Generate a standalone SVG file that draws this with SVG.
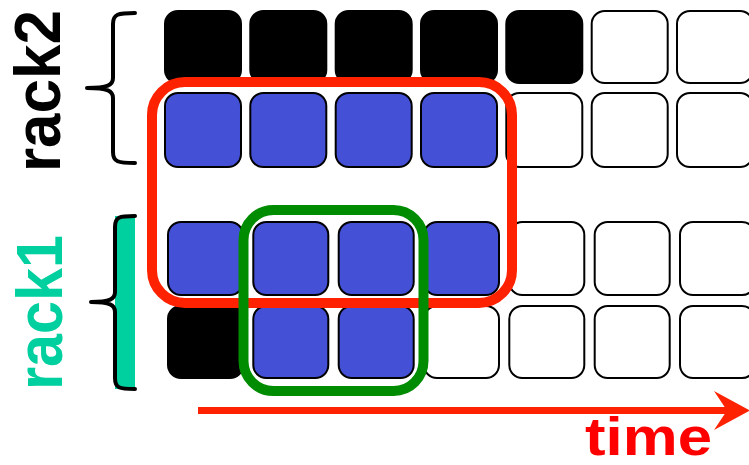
<svg xmlns="http://www.w3.org/2000/svg" width="749" height="465" viewBox="0 0 749 465">
<style>
.c{stroke:#000;stroke-width:2}
.k{fill:#000}
.b{fill:#4450d6}
.w{fill:#fff}
.lbl{font-family:"Liberation Sans",Arial,sans-serif;font-weight:bold}
.brace{fill:none;stroke:#000;stroke-width:4;stroke-linecap:round;stroke-linejoin:round}
</style>
<rect width="749" height="465" fill="#fff"/>
<g id="rack2-row1">
<rect class="c k" x="165" y="11" width="76" height="72" rx="13"/>
<rect class="c k" x="250.3" y="11" width="76" height="72" rx="13"/>
<rect class="c k" x="335.7" y="11" width="76" height="72" rx="13"/>
<rect class="c k" x="421" y="11" width="76" height="72" rx="13"/>
<rect class="c k" x="506.3" y="11" width="76" height="72" rx="13"/>
<rect class="c w" x="591.7" y="11" width="76" height="72" rx="13"/>
<rect class="c w" x="677" y="11" width="76" height="72" rx="13"/>
</g>
<g id="rack2-row2">
<rect class="c b" x="165" y="93" width="76" height="74" rx="13"/>
<rect class="c b" x="250.3" y="93" width="76" height="74" rx="13"/>
<rect class="c b" x="335.7" y="93" width="76" height="74" rx="13"/>
<rect class="c b" x="421" y="93" width="76" height="74" rx="13"/>
<rect class="c w" x="506.3" y="93" width="76" height="74" rx="13"/>
<rect class="c w" x="591.7" y="93" width="76" height="74" rx="13"/>
<rect class="c w" x="677" y="93" width="76" height="74" rx="13"/>
</g>
<g id="rack1-row1">
<rect class="c b" x="168" y="222" width="75" height="73" rx="13"/>
<rect class="c b" x="253.3" y="222" width="75" height="73" rx="13"/>
<rect class="c b" x="338.7" y="222" width="75" height="73" rx="13"/>
<rect class="c b" x="424" y="222" width="75" height="73" rx="13"/>
<rect class="c w" x="509.3" y="222" width="75" height="73" rx="13"/>
<rect class="c w" x="594.7" y="222" width="75" height="73" rx="13"/>
<rect class="c w" x="680" y="222" width="75" height="73" rx="13"/>
</g>
<g id="rack1-row2">
<rect class="c k" x="168" y="306" width="75" height="72" rx="13"/>
<rect class="c b" x="253.3" y="306" width="75" height="72" rx="13"/>
<rect class="c b" x="338.7" y="306" width="75" height="72" rx="13"/>
<rect class="c w" x="424" y="306" width="75" height="72" rx="13"/>
<rect class="c w" x="509.3" y="306" width="75" height="72" rx="13"/>
<rect class="c w" x="594.7" y="306" width="75" height="72" rx="13"/>
<rect class="c w" x="680" y="306" width="75" height="72" rx="13"/>
</g>
<g id="red-group">
<rect x="152" y="82" width="360" height="221" rx="33" fill="none" stroke="#ff2200" stroke-width="10"/>
</g>
<g id="green-group">
<rect x="243.5" y="210" width="180" height="181" rx="30" fill="none" stroke="#008c00" stroke-width="10"/>
</g>
<g id="time-axis">
<line x1="198" y1="410.5" x2="728" y2="410.5" stroke="#ff2200" stroke-width="7"/>
<polygon points="714,391 750,410.5 714,430 727,410.5" fill="#ff2200"/>
<text class="lbl" x="585" y="455" font-size="54" fill="#ff0000" textLength="127" lengthAdjust="spacingAndGlyphs">time</text>
</g>
<g id="rack2-label">
<path class="brace" d="M135,13 C118,13 113,14 113,24 L113,78 C113,85 108,88 87,88 C108,88 113,91 113,98 L113,152 C113,162 118,163 135,163"/>
<text class="lbl" transform="translate(60,91) rotate(-90)" text-anchor="middle" font-size="65" fill="#000" textLength="162" lengthAdjust="spacingAndGlyphs">rack2</text>
</g>
<g id="rack1-label">
<rect x="115" y="216" width="20" height="173" fill="#00cf9f"/>
<path class="brace" d="M135,216 C119,216 115,217 115,227 L115,292 C115,299 110,302 91,302 C110,302 115,305 115,312 L115,378 C115,388 119,389 135,389"/>
<text class="lbl" transform="translate(62,312.5) rotate(-90)" text-anchor="middle" font-size="65" fill="#00cf9f" textLength="155" lengthAdjust="spacingAndGlyphs">rack1</text>
</g>
</svg>
